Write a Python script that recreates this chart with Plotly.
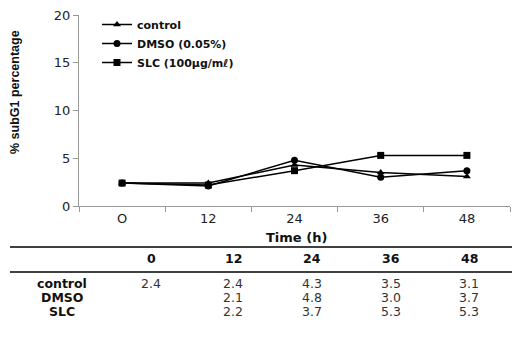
import plotly.graph_objects as go

times = ["0", "12", "24", "36", "48"]
time_ticktext = ["O", "12", "24", "36", "48"]
control = [2.4, 2.4, 4.3, 3.5, 3.1]
dmso = [2.4, 2.1, 4.8, 3.0, 3.7]
slc = [2.4, 2.2, 3.7, 5.3, 5.3]

table_rows = ["control", "DMSO", "SLC"]
table_values = [
    ["2.4", "2.4", "4.3", "3.5", "3.1"],
    ["", "2.1", "4.8", "3.0", "3.7"],
    ["", "2.2", "3.7", "5.3", "5.3"],
]
y_ticks = [0, 5, 10, 15, 20]

W, H = 512, 339
# plot area in page pixels: x 79..510, y 15..206
PL, PR, PT, PB = 79, 510, 15, 206
L, R, T, B = PL, W - PR, PT, H - PB
pw, ph = PR - PL, PB - PT


def px(x):
    return (x - PL) / pw


def py(y):
    return (PB - y) / ph


fig = go.Figure()
series = [
    ("control", control, "triangle-up"),
    ("DMSO (0.05%)", dmso, "circle"),
    ("SLC (100\u03bcg/m\u2113)", slc, "square"),
]
for name, vals, sym in series:
    fig.add_trace(go.Scatter(
        x=times, y=vals, name=name, mode="lines+markers",
        line=dict(color="black", width=1.5),
        marker=dict(symbol=sym, size=7, color="black"),
    ))

fig.update_layout(
    width=W, height=H,
    margin=dict(l=L, r=R, t=T, b=B),
    paper_bgcolor="white", plot_bgcolor="white",
    font=dict(family="DejaVu Sans", color="#222"),
    showlegend=True,
    legend=dict(
        x=px(97), y=py(10), xanchor="left", yanchor="top",
        bgcolor="rgba(0,0,0,0)",
        font=dict(family="DejaVu Sans", size=11, color="#111", weight="bold"),
        itemwidth=30, tracegroupgap=0,
    ),
    xaxis=dict(
        type="category", tickvals=times, ticktext=time_ticktext,
        tickson="boundaries", ticks="outside", ticklen=5,
        tickcolor="#999", showline=True, linecolor="#999", linewidth=1,
        showgrid=False, zeroline=False, range=[-0.5, 4.5],
        tickfont=dict(family="DejaVu Sans", size=13, color="#222"),
    ),
    yaxis=dict(
        range=[0, 20], tickvals=y_ticks, ticks="outside", ticklen=5,
        tickcolor="#999", showline=True, linecolor="#999", linewidth=1,
        showgrid=False, zeroline=False,
        tickfont=dict(family="DejaVu Sans", size=13, color="#222"),
    ),
)


def label(x, y, text, size=13, bold=False, color="#111", angle=0):
    return dict(x=px(x), y=py(y), xref="paper", yref="paper", text=text,
                showarrow=False, xanchor="center", yanchor="middle",
                textangle=angle,
                font=dict(family="DejaVu Sans", size=size, color=color,
                          weight="bold" if bold else "normal"))


ann = []
yt = label(15, 92, "% subG1 percentage", size=12.5, bold=True, angle=-90)
yt["font"]["family"] = "Liberation Sans"
ann.append(yt)
ann.append(label(296, 237, "Time (h)", size=13, bold=True))

col_x = [151, 233, 312, 391, 469]
row_y = [283, 297, 311]
for t, cx in zip(times, col_x):
    ann.append(label(cx, 258, t, size=12.5, bold=True))
for r, ry, vals in zip(table_rows, row_y, table_values):
    ann.append(label(62, ry, r, size=12.5, bold=True))
    for v, cx in zip(vals, col_x):
        if v:
            ann.append(label(cx, ry, v, size=12.5, color="#333"))
fig.update_layout(annotations=ann)

for ly in (247, 272):
    fig.add_shape(type="line", xref="paper", yref="paper",
                  x0=px(10), x1=px(512), y0=py(ly), y1=py(ly),
                  line=dict(color="black", width=1.5))

# remove the default 8px page margin so the figure fills the window
fig.write_html("out.html", config={"displayModeBar": False},
               post_script="document.body.style.margin='0px';")
